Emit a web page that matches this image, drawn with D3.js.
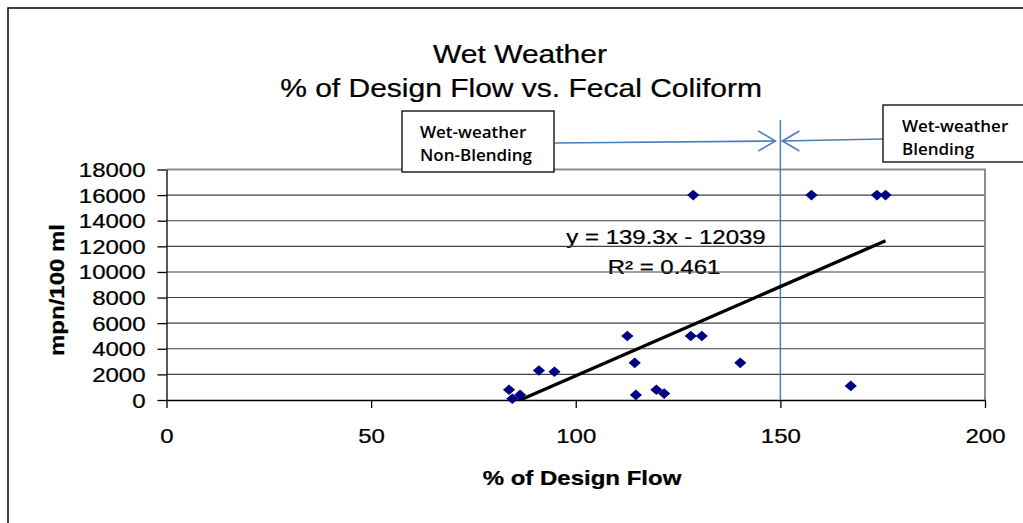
<!DOCTYPE html>
<html>
<head>
<meta charset="utf-8">
<title>Wet Weather - % of Design Flow vs. Fecal Coliform</title>
<script src="https://d3js.org/d3.v7.min.js"></script>
<style>
  body { margin: 0; background: #fff; }
  svg text { font-family: "Liberation Sans", Arial, sans-serif; fill: #000; stroke: #000; stroke-width: 0.25px; }
  svg text.note { font-family: "Open Sans", sans-serif; font-weight: 600; stroke: none; }
</style>
</head>
<body>
<svg width="1023" height="523"></svg>
<script>
// values
var flowPct = [83.7, 84.5, 86.4, 91.0, 94.8, 112.6, 114.4, 114.7, 119.7, 121.6,
               128.1, 128.7, 130.8, 140.2, 157.6, 167.2, 173.6, 175.7];
var fecal   = [800, 100, 400, 2300, 2200, 5000, 2900, 400, 800, 500,
               5000, 16000, 5000, 2900, 16000, 1100, 16000, 16000];
var xTicks = [0, 50, 100, 150, 200];
var yTicks = [0, 2000, 4000, 6000, 8000, 10000, 12000, 14000, 16000, 18000];
var slope = 139.3, intercept = -12039, rSquared = 0.461;
var blendLimit = 150;
var titleLines = ["Wet Weather", "% of Design Flow vs. Fecal Coliform"];
var notes = [["Wet-weather", "Non-Blending"], ["Wet-weather", "Blending"]];

var svg = d3.select("svg");
var x = d3.scaleLinear().domain([0, 200]).range([166.5, 985]);
var y = d3.scaleLinear().domain([0, 18000]).range([400, 169.5]);
var sx = 1.2; // the Excel text is rendered wide

function stretchText(g, px, py, str, size, anchor, weight) {
    return g.append("text")
        .attr("transform", "translate(" + px + "," + py + ") scale(" + sx + ",1)")
        .attr("text-anchor", anchor || "middle")
        .style("font-size", size + "px")
        .style("font-weight", weight || "normal")
        .text(str);
}

// outer chart frame (cropped on the right and bottom)
svg.append("path").attr("d", "M8,523V8H1023")
    .attr("fill", "none").attr("stroke", "#000").attr("stroke-width", 1.5);

// title
stretchText(svg, 520, 63, titleLines[0], 25);
stretchText(svg, 521, 97, titleLines[1], 25);

// trendline label (sits under the gridlines)
stretchText(svg, 666, 244, "y = " + slope + "x - " + Math.abs(intercept), 20);
stretchText(svg, 664, 274, "R\u00B2 = " + rSquared, 20);

// gridlines
svg.append("g").selectAll("line")
    .data(yTicks.slice(1, -1))
    .enter().append("line")
    .attr("x1", x(0)).attr("x2", x(200))
    .attr("y1", function(d) { return y(d); })
    .attr("y2", function(d) { return y(d); })
    .attr("stroke", "#404040").attr("stroke-width", 1.1);

// plot border top/right
svg.append("path")
    .attr("d", "M" + x(0) + "," + y(18000) + "H" + x(200) + "V" + y(0))
    .attr("fill", "none").attr("stroke", "#8c8c8c").attr("stroke-width", 2);

// axes
var gY = svg.append("g").attr("transform", "translate(" + x(0) + ",0)")
    .call(d3.axisLeft(y).tickValues(yTicks).tickSize(9).tickSizeOuter(0).tickFormat(d3.format("d")));
gY.selectAll(".tick text")
    .attr("x", null).attr("dy", null)
    .attr("transform", "translate(-21,7) scale(" + sx + ",1)")
    .style("font-size", "20px");

var gX = svg.append("g").attr("transform", "translate(0," + y(0) + ")")
    .call(d3.axisBottom(x).tickValues(xTicks).tickSize(8).tickSizeOuter(0));
gX.selectAll(".tick text")
    .attr("y", null).attr("dy", null)
    .attr("transform", "translate(0,43) scale(" + sx + ",1)")
    .style("font-size", "20px");
svg.selectAll(".domain, .tick line").attr("stroke", "#000").attr("stroke-width", 1.3);

// axis titles
stretchText(svg, 582, 485, "% of Design Flow", 20, "middle", "bold");
svg.append("text")
    .attr("transform", "translate(64,290) rotate(-90) scale(" + sx + ",1)")
    .attr("text-anchor", "middle")
    .style("font-size", "20px").style("font-weight", "bold")
    .text("mpn/100 ml");

// blending limit line and callouts
var bx = x(blendLimit);
var blue = "#4a7ebb";
svg.append("line").attr("x1", bx).attr("x2", bx).attr("y1", 120).attr("y2", y(0))
    .attr("stroke", blue).attr("stroke-width", 1.5);

var arrows = svg.append("g").attr("fill", "none").attr("stroke", blue).attr("stroke-width", 1.6);
arrows.append("path").attr("d", "M555,143L" + (bx - 5) + ",141");
arrows.append("path").attr("d", "M" + (bx - 22) + ",131L" + (bx - 5) + ",141L" + (bx - 22) + ",151");
arrows.append("path").attr("d", "M883,139L" + (bx + 2) + ",141");
arrows.append("path").attr("d", "M" + (bx + 19) + ",131L" + (bx + 2) + ",141L" + (bx + 19) + ",151");

var boxes = [{x: 402, y: 111, w: 152, h: 61, tx: 420, b1: 138, b2: 161},
             {x: 883, y: 105, w: 160, h: 57, tx: 902, b1: 132, b2: 155}];
boxes.forEach(function(b, i) {
    svg.append("rect").attr("x", b.x).attr("y", b.y).attr("width", b.w).attr("height", b.h)
        .attr("fill", "#fff").attr("stroke", "#000").attr("stroke-width", 1.3);
    svg.append("text").attr("class", "note").attr("x", b.tx).attr("y", b.b1)
        .style("font-size", "17px").text(notes[i][0]);
    svg.append("text").attr("class", "note").attr("x", b.tx).attr("y", b.b2)
        .style("font-size", "17px").text(notes[i][1]);
});

// trendline, clipped to the plot area
svg.append("clipPath").attr("id", "plot-clip").append("rect")
    .attr("x", x(0)).attr("y", y(18000)).attr("width", x(200) - x(0)).attr("height", y(0) - y(18000));
var xr = d3.extent(flowPct);
svg.append("path")
    .attr("clip-path", "url(#plot-clip)")
    .attr("d", d3.line()([xr[0], xr[1]].map(function(v) { return [x(v), y(slope * v + intercept)]; })))
    .attr("stroke", "#000").attr("stroke-width", 3.3).attr("fill", "none");

// data points
var diamond = d3.symbol(d3.symbolSquare, 56)();
svg.append("g").selectAll("path")
    .data(flowPct)
    .enter().append("path")
    .attr("d", diamond)
    .attr("transform", function(d, i) {
        return "translate(" + x(d) + "," + y(fecal[i]) + ") scale(1.15,1) rotate(45)";
    })
    .attr("fill", "#000080");
</script>
</body>
</html>
